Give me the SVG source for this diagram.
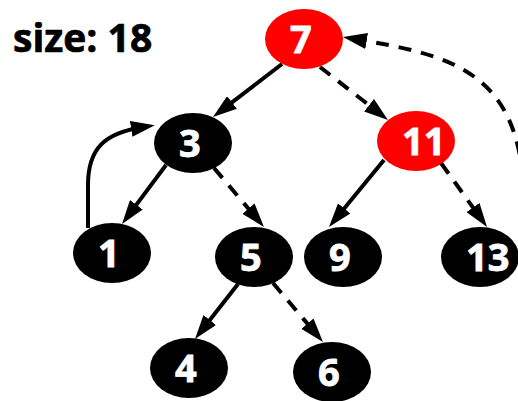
<svg xmlns="http://www.w3.org/2000/svg" width="518" height="401" viewBox="0 0 518 401">
<style>
.edge{fill:none;stroke:#000;stroke-width:4;marker-end:url(#arrow)}
.dash{stroke-dasharray:13,10}
.red{fill:#ff0000}
.blk{fill:#000}
.lbl{font-family:"Open Sans","DejaVu Sans",sans-serif;font-weight:700;font-size:38px;fill:#fff;stroke:#fff;stroke-width:0.8}
.title{font-family:"Open Sans","DejaVu Sans",sans-serif;font-weight:700;font-size:39px;fill:#000;stroke:#000;stroke-width:0.7}
</style>
<defs>
<marker id="arrow" markerUnits="userSpaceOnUse" markerWidth="24" markerHeight="16" refX="12" refY="8" orient="auto">
<path d="M0,0 L24,8 L0,16 z" fill="#000"/>
</marker>
</defs>
<text class="title" x="13" y="52">size: 18</text>
<g id="connectors">
<path class="edge" d="M282,64 L222.5,109.7"/>
<path class="edge dash" d="M320,67 L378.5,112.6"/>
<path class="edge" d="M166,165 L129.2,214.4"/>
<path class="edge dash" d="M214,168 L256.2,217.8"/>
<path class="edge" d="M384,160 L336.6,217.7"/>
<path class="edge dash" d="M441,163 L480,217.3"/>
<path class="edge" d="M238,284 L202.4,329.5"/>
<path class="edge dash" d="M273,283 L315.2,332.8"/>
<path class="edge" d="M88,228 L88,185 C88,148 105,133 143,127"/>
<path class="edge dash" d="M524,200 C522,70 450,55 354.8,39"/>
</g>
<g id="n7"><ellipse class="red" cx="304" cy="39" rx="39" ry="30"/><text class="lbl" x="290" y="53">7</text></g>
<g id="n3"><ellipse class="blk" cx="193" cy="143" rx="39" ry="30"/><text class="lbl" x="179" y="157">3</text></g>
<g id="n11"><ellipse class="red" cx="416" cy="141" rx="39" ry="30"/><text class="lbl" x="402" y="155">11</text></g>
<g id="n1"><ellipse class="blk" cx="112" cy="253" rx="39" ry="30"/><text class="lbl" x="98" y="267">1</text></g>
<g id="n5"><ellipse class="blk" cx="254" cy="257" rx="39" ry="30"/><text class="lbl" x="240" y="271">5</text></g>
<g id="n9"><ellipse class="blk" cx="343" cy="257" rx="39" ry="30"/><text class="lbl" x="329" y="271">9</text></g>
<g id="n13"><ellipse class="blk" cx="480" cy="257" rx="39" ry="30"/><text class="lbl" x="466" y="271">13</text></g>
<g id="n4"><ellipse class="blk" cx="189" cy="368" rx="39" ry="30"/><text class="lbl" x="175" y="382">4</text></g>
<g id="n6"><ellipse class="blk" cx="332" cy="372" rx="39" ry="30"/><text class="lbl" x="318" y="386">6</text></g>
</svg>
